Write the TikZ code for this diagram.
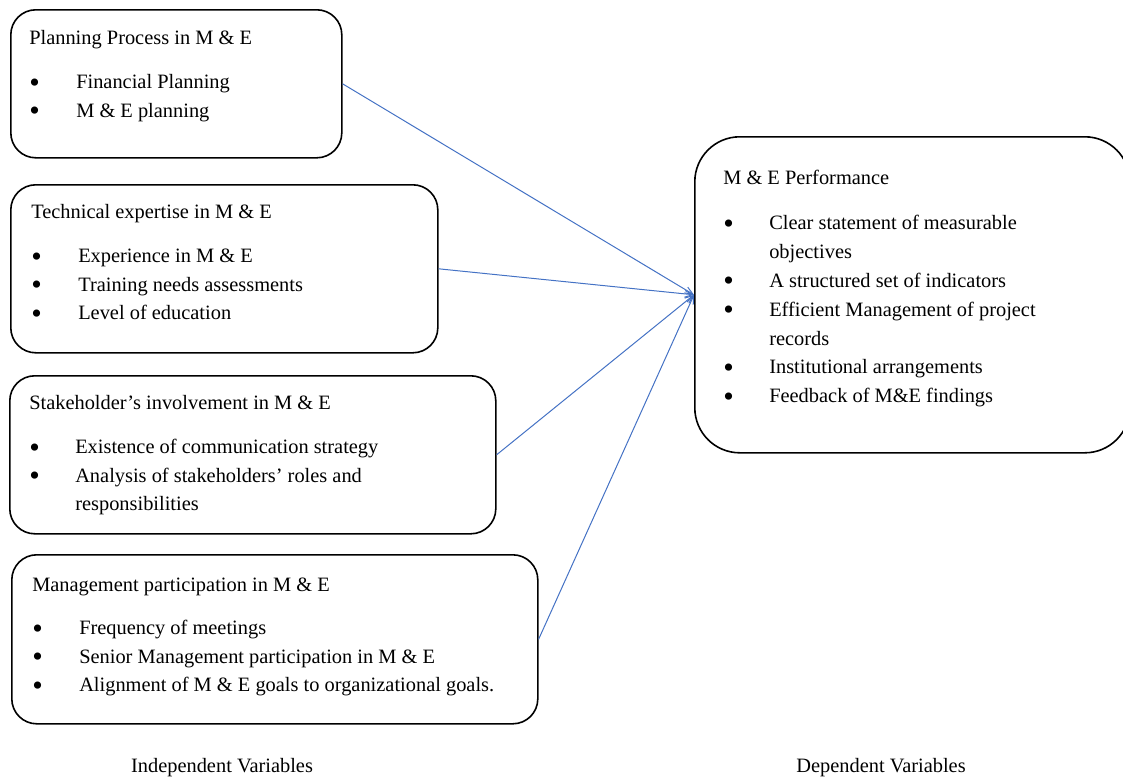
\documentclass[tikz,border=0pt]{standalone}
\usepackage{fontspec}
\setmainfont{Liberation Serif}
\usetikzlibrary{arrows.meta}
\newlength\px \setlength\px{0.75pt}
\definecolor{arrowblue}{RGB}{68,114,196}
\newcommand\bigbul{\raisebox{-2.6pt}{\fontsize{22.5pt}{0pt}\selectfont\textbullet}}
\tikzset{
  box/.style={draw=black, line width=1.2pt, rounded corners=25\px, anchor=north west, inner sep=0pt},
  bigbox/.style={box, rounded corners=45\px},
  txt/.style={anchor=base west, inner sep=0pt, font=\fontsize{15.3pt}{21.3pt}\selectfont},
  bigtxt/.style={txt, font=\fontsize{15.3pt}{21.6pt}\selectfont},
  varlabel/.style={anchor=base, inner sep=0pt, font=\fontsize{15.3pt}{21.3pt}\selectfont},
  link/.style={draw=arrowblue, line width=0.75pt, -{Straight Barb[length=6pt,width=5pt]}}
}
\begin{document}
\begin{tikzpicture}[x=0.75pt, y=-0.75pt]
\useasboundingbox (0,0) rectangle (1123,778);
\clip (0,0) rectangle (1123,778);

% boxes
\node[box, minimum width=331\px, minimum height=148\px] (b1) at (10,9) {};
\node[box, minimum width=427\px, minimum height=168\px] (b2) at (10,184) {};
\node[box, minimum width=486\px, minimum height=158\px] (b3) at (9,375) {};
\node[box, minimum width=526\px, minimum height=169\px] (b4) at (11,554) {};
\node[bigbox, minimum width=435\px, minimum height=316\px] (perf) at (694,136) {};

% texts
\node[txt] (t1) at (29,44) {\begin{tabular}[t]{@{}p{47\px}@{}l@{}}
\multicolumn{2}{@{}l@{}}{Planning Process in M \& E}\\[16.5\px]
\bigbul & Financial Planning\\
\bigbul & M \& E planning
\end{tabular}};

\node[txt] (t2) at (31,218) {\begin{tabular}[t]{@{}p{47\px}@{}l@{}}
\multicolumn{2}{@{}l@{}}{Technical expertise in M \& E}\\[16.5\px]
\bigbul & Experience in M \& E\\
\bigbul & Training needs assessments\\
\bigbul & Level of education
\end{tabular}};

\node[txt] (t3) at (29,409) {\begin{tabular}[t]{@{}p{46\px}@{}l@{}}
\multicolumn{2}{@{}l@{}}{Stakeholder’s involvement in M \& E}\\[16.5\px]
\bigbul & Existence of communication strategy\\
\bigbul & Analysis of stakeholders’ roles and\\
 & responsibilities
\end{tabular}};

\node[txt] (t4) at (32,591) {\begin{tabular}[t]{@{}p{47\px}@{}l@{}}
\multicolumn{2}{@{}l@{}}{Management participation in M \& E}\\[15.5\px]
\bigbul & Frequency of meetings\\
\bigbul & Senior Management participation in M \& E\\
\bigbul & Alignment of M \& E goals to organizational goals.
\end{tabular}};

\node[bigtxt] (t5) at (723,184) {\begin{tabular}[t]{@{}p{46\px}@{}l@{}}
\multicolumn{2}{@{}l@{}}{M \& E Performance}\\[17\px]
\bigbul & Clear statement of measurable\\
 & objectives\\
\bigbul & A structured set of indicators\\
\bigbul & Efficient Management of project\\
 & records\\
\bigbul & Institutional arrangements\\
\bigbul & Feedback of M\&E findings
\end{tabular}};

% bottom labels
\node[varlabel] (indep) at (222,772) {Independent Variables};
\node[varlabel] (dep) at (881,772) {Dependent Variables};

% connectors
\draw[link] (b1.east) -- (perf.west);
\draw[link] (b2.east) -- (perf.west);
\draw[link] (b3.east) -- (perf.west);
\draw[link] (b4.east) -- (perf.west);
\end{tikzpicture}
\end{document}
